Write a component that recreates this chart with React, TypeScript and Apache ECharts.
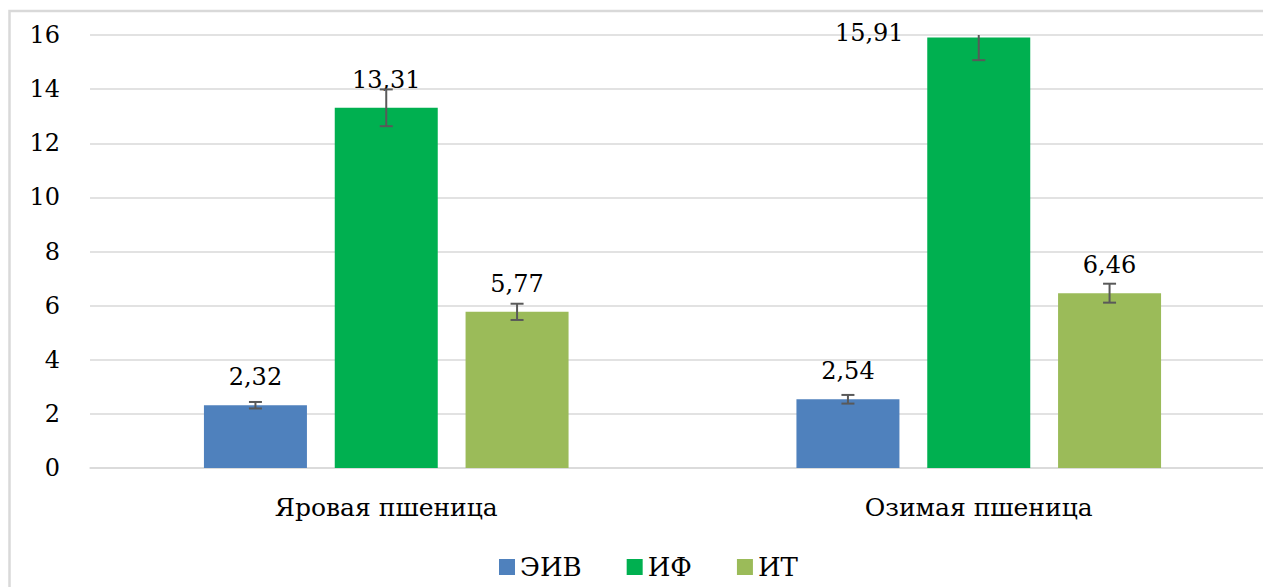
import React, { useEffect, useRef } from "react";
import * as echarts from "echarts";

const categories = ["Яровая пшеница", "Озимая пшеница"];
const seriesNames = ["ЭИВ", "ИФ", "ИТ"];
const eivValues = [2.32, 2.54];
const ifValues = [13.31, 15.91];
const itValues = [5.77, 6.46];
const eivErrors = [0.12, 0.16];
const ifErrors = [0.68, 0.84];
const itErrors = [0.3, 0.35];
const colors = ["#4f81bd", "#00b050", "#9bbb59"];

const Y_MAX = 16;
const BAR_W = 103;
const BAR_GAP = 0.27;
const FONT = "DejaVu Serif";
const FS_NUM = 24;
const FS_CAT = 25;
const FS_LEG = 26;

const fmt = (v: number) => v.toFixed(2).replace(".", ",");

function makeBar(idx: number, values: number[]) {
  return {
    type: "bar",
    name: seriesNames[idx],
    barWidth: BAR_W,
    barGap: BAR_GAP * 100 + "%",
    itemStyle: { color: colors[idx] },
    data: values.map((v, i) => {
      const item: any = { value: v };
      if (idx === 1 && i === 1) {
        item.label = {
          position: [-58, -4.5],
          align: "center",
          verticalAlign: "middle",
        };
      }
      return item;
    }),
    label: {
      show: true,
      position: "top",
      distance: 14,
      formatter: (p: any) => fmt(p.value),
      fontFamily: FONT,
      fontSize: FS_NUM,
      lineHeight: 28,
      color: "#000",
    },
    z: 2,
  };
}

function makeErr(idx: number, values: number[], errs: number[]) {
  return {
    type: "custom",
    name: "err" + idx,
    data: values.map((v, i) => [i, v, errs[i]]),
    z: 10,
    silent: true,
    renderItem: (params: any, api: any) => {
      const ci = api.value(0);
      const v = api.value(1);
      const e = api.value(2);
      const off = (idx - 1) * BAR_W * (1 + BAR_GAP);
      const hiVal = Math.min(v + e, Y_MAX);
      const clipped = v + e > Y_MAX;
      const pHi = api.coord([ci, hiVal]);
      const pLo = api.coord([ci, v - e]);
      const x = pHi[0] + off;
      const cap = 6.5;
      const st = { stroke: "#595959", lineWidth: 2 };
      const children: any[] = [
        { type: "line", shape: { x1: x, y1: pHi[1], x2: x, y2: pLo[1] }, style: st },
        { type: "line", shape: { x1: x - cap, y1: pLo[1], x2: x + cap, y2: pLo[1] }, style: st },
      ];
      if (!clipped) {
        children.push({
          type: "line",
          shape: { x1: x - cap, y1: pHi[1], x2: x + cap, y2: pHi[1] },
          style: st,
        });
      }
      return { type: "group", children };
    },
  };
}

export default function App() {
  const ref = useRef<HTMLDivElement>(null);
  useEffect(() => {
    if (!ref.current) return;
    const chart = echarts.init(ref.current, null, { renderer: "svg" });
    chart.setOption({
      animation: false,
      backgroundColor: "#fff",
      textStyle: { fontFamily: FONT },
      graphic: [
        {
          type: "rect",
          shape: { x: 9.5, y: 11, width: 1400, height: 700 },
          style: { fill: "none", stroke: "#d9d9d9", lineWidth: 2.5 },
          silent: true,
          z: 0,
        },
      ],
      grid: { left: 90, right: 0, top: 35, bottom: 119 },
      legend: {
        data: seriesNames,
        left: 499,
        top: 552,
        padding: 0,
        itemWidth: 16,
        itemHeight: 16,
        itemGap: 45,
        icon: "rect",
        textStyle: { fontFamily: FONT, fontSize: FS_LEG, color: "#000", lineHeight: 30 },
      },
      xAxis: {
        type: "category",
        data: categories,
        axisTick: { show: false },
        axisLine: { lineStyle: { color: "#d9d9d9", width: 1.5 } },
        axisLabel: { fontFamily: FONT, fontSize: FS_CAT, color: "#000", margin: 27 },
      },
      yAxis: {
        type: "value",
        min: 0,
        max: Y_MAX,
        interval: 2,
        axisLine: { show: false },
        axisTick: { show: false },
        splitLine: { lineStyle: { color: "#d9d9d9", width: 1.5 } },
        axisLabel: { fontFamily: FONT, fontSize: FS_NUM, color: "#000", margin: 30 },
      },
      series: [
        makeBar(0, eivValues),
        makeBar(1, ifValues),
        makeBar(2, itValues),
        makeErr(0, eivValues, eivErrors),
        makeErr(1, ifValues, ifErrors),
        makeErr(2, itValues, itErrors),
      ],
    });
    return () => chart.dispose();
  }, []);
  return (
    <div
      style={{
        position: "absolute",
        left: 0,
        top: 0,
        width: 1263,
        height: 587,
        overflow: "hidden",
      }}
    >
      <div ref={ref} style={{ width: 1275, height: 587 }} />
    </div>
  );
}
